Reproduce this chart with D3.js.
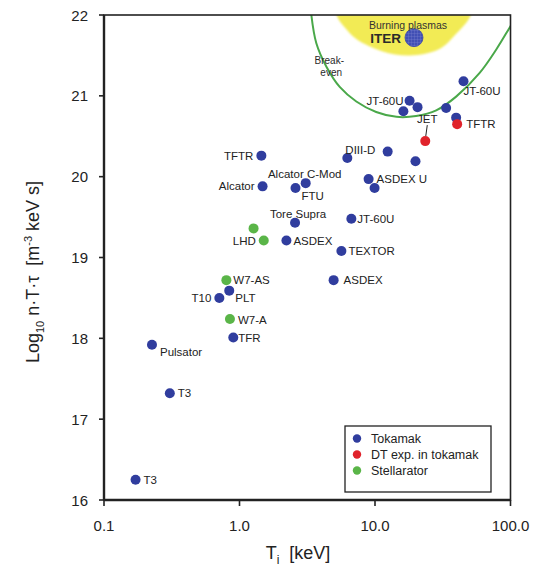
<!DOCTYPE html>
<html><head><meta charset="utf-8">
<script src="https://cdn.jsdelivr.net/npm/d3@7"></script>
<style>
html,body{margin:0;padding:0;background:#fff;}
svg{display:block;font-family:"Liberation Sans",Arial,sans-serif;}
</style></head>
<body><svg id="c" width="535" height="567"></svg>
<script>
// ---- data ----
const xTicks = [0.1, 1, 10, 100];
const xTickLabels = ["0.1", "1.0", "10.0", "100.0"];
const yTicks = [16, 17, 18, 19, 20, 21, 22];

const deviceNames = ["JT-60U","JT-60U","","","","","TFTR","JET","DIII-D","","","TFTR","Alcator C-Mod","FTU","Alcator","ASDEX U","","Tore Supra","JT-60U","","LHD","ASDEX","TEXTOR","W7-AS","ASDEX","PLT","T10","W7-A","TFR","Pulsator","T3","T3"];
const deviceTi =      [45.0, 18.0, 20.6, 16.2, 33.5, 39.7, 40.4, 23.5, 6.25, 12.4, 19.9, 1.45, 3.08, 2.59, 1.48, 8.97, 9.93, 2.57, 6.69, 1.27, 1.51, 2.22, 5.65, 0.80, 4.95, 0.84, 0.71, 0.85, 0.90, 0.226, 0.306, 0.171];
const deviceNTtau =   [21.18, 20.94, 20.86, 20.81, 20.85, 20.73, 20.65, 20.44, 20.23, 20.31, 20.19, 20.26, 19.92, 19.86, 19.88, 19.97, 19.86, 19.43, 19.48, 19.36, 19.21, 19.21, 19.08, 18.72, 18.72, 18.59, 18.50, 18.24, 18.01, 17.92, 17.32, 16.25];
const deviceType =    ["T","T","T","T","T","T","D","D","T","T","T","T","T","T","T","T","T","T","T","S","S","T","T","S","T","T","T","S","T","T","T","T"];

const legendLabels = ["Tokamak", "DT exp. in tokamak", "Stellarator"];
const legendTypes = ["T", "D", "S"];

const breakevenTi =    [3.39, 3.69, 4.38, 5.49, 7.28, 10.2, 14.4, 20.1, 28.3, 39.7, 59.0, 78.3, 98.2, 105];
const breakevenNTtau = [22.0, 21.65, 21.36, 21.11, 20.93, 20.80, 20.74, 20.75, 20.82, 20.99, 21.28, 21.57, 21.84, 21.92];

const burningTi =    [5.20, 6.10, 7.32, 11.4, 18.0, 29.9, 39.9, 51.0];
const burningNTtau = [22.0, 21.83, 21.70, 21.55, 21.50, 21.58, 21.77, 22.0];

const iterTi = 19.4, iterNTtau = 21.72;

// ---- layout / style (not data) ----
const colors = {T: "#303d9e", D: "#e0232b", S: "#5ab548"};
const labelPlace = [ // [dx, dy, anchor]
  [0,14,"start"],[-6,4,"end"],null,null,null,null,[9,4,"start"],[2,-18,"middle"],[-2,-4,"start"],null,null,[-8,4,"end"],
  [-1,-5,"middle"],[6,12,"start"],[-8,4,"end"],[8,4,"start"],null,[3,-5,"middle"],[6,4,"start"],null,[-8,4,"end"],
  [7,4,"start"],[7,4,"start"],[7,4,"start"],[10,4,"start"],[6,11,"start"],[-8,4,"end"],[8,5,"start"],[5,4,"start"],
  [8,11,"start"],[8,4,"start"],[8,4,"start"]
];

const svg = d3.select("#c");
const L = 104, R = 510.5, T = 15, B = 500;
const x = d3.scaleLog().domain([0.1, 100]).range([L, R]);
const y = d3.scaleLinear().domain([16, 22]).range([B, T]);

const defs = svg.append("defs");
defs.append("clipPath").attr("id", "clip").append("rect")
  .attr("x", L).attr("y", T).attr("width", R - L).attr("height", B - T);
const blur = defs.append("filter").attr("id", "soft").attr("x", "-10%").attr("y", "-10%").attr("width", "120%").attr("height", "120%");
blur.append("feGaussianBlur").attr("stdDeviation", 1.2);
const pat = defs.append("pattern").attr("id", "grid").attr("width", 3).attr("height", 3).attr("patternUnits", "userSpaceOnUse");
pat.append("rect").attr("width", 3).attr("height", 3).attr("fill", "#4250b5");
pat.append("path").attr("d", "M0,0H3M0,0V3").attr("stroke", "#7d86d0").attr("stroke-width", 0.6);

const plot = svg.append("g").attr("clip-path", "url(#clip)");

// burning plasma region
const burnPts = burningTi.map((t, i) => [x(t), y(burningNTtau[i])]);
plot.append("path")
  .attr("d", d3.line().curve(d3.curveCatmullRom)([[x(burningTi[0]) - 2, y(22.3)], ...burnPts, [x(burningTi[burningTi.length-1]) + 2, y(22.3)]]) + "Z")
  .attr("fill", "#f2eb55").attr("filter", "url(#soft)");

// break-even curve
plot.append("path")
  .attr("d", d3.line().curve(d3.curveCatmullRom).x((d, i) => x(d)).y((d, i) => y(breakevenNTtau[i]))(breakevenTi))
  .attr("fill", "none").attr("stroke", "#4aa84a").attr("stroke-width", 2);

// ITER
plot.append("circle").attr("cx", x(iterTi)).attr("cy", y(iterNTtau)).attr("r", 9)
  .attr("fill", "url(#grid)").attr("stroke", "#3a46a8").attr("stroke-width", 0.8);
svg.append("text").attr("x", x(iterTi) - 13).attr("y", y(iterNTtau) + 5).attr("text-anchor", "end")
  .attr("font-size", 13.5).attr("font-weight", "bold").attr("fill", "#2a2a2a").text("ITER");
svg.append("text").attr("x", x(iterTi) - 6).attr("y", y(21.83)).attr("text-anchor", "middle")
  .attr("font-size", 10.5).attr("fill", "#333").text("Burning plasmas");
svg.append("text").attr("x", x(4.6)).attr("y", y(21.4)).attr("text-anchor", "middle")
  .attr("font-size", 10).attr("fill", "#2a2a2a").text("Break-");
svg.append("text").attr("x", x(4.75)).attr("y", y(21.25)).attr("text-anchor", "middle")
  .attr("font-size", 10).attr("fill", "#2a2a2a").text("even");

// JET connector line
const jetI = deviceNames.indexOf("JET");
svg.append("line").attr("x1", x(deviceTi[jetI]) + 2).attr("y1", y(deviceNTtau[jetI]) - 16)
  .attr("x2", x(deviceTi[jetI]) + 0.5).attr("y2", y(deviceNTtau[jetI]) - 5)
  .attr("stroke", "#222").attr("stroke-width", 1);

// points
svg.append("g").selectAll("circle").data(deviceTi).join("circle")
  .attr("cx", d => x(d)).attr("cy", (d, i) => y(deviceNTtau[i])).attr("r", 5)
  .attr("fill", (d, i) => colors[deviceType[i]]);

// labels
svg.append("g").selectAll("text").data(deviceNames.map((n, i) => i).filter(i => deviceNames[i] && labelPlace[i]))
  .join("text")
  .attr("x", i => x(deviceTi[i]) + labelPlace[i][0])
  .attr("y", i => y(deviceNTtau[i]) + labelPlace[i][1])
  .attr("text-anchor", i => labelPlace[i][2])
  .attr("font-size", 11.5).attr("fill", "#222")
  .text(i => deviceNames[i]);

// axes
const ax = svg.append("g").attr("stroke", "#222");
ax.append("rect").attr("x", L).attr("y", T).attr("width", R - L).attr("height", B - T)
  .attr("fill", "none").attr("stroke-width", 1.6);
ax.append("line").attr("x1", L).attr("x2", L).attr("y1", T).attr("y2", B).attr("stroke-width", 2.4);
ax.append("line").attr("x1", L).attr("x2", R).attr("y1", B).attr("y2", B).attr("stroke-width", 2.4);
ax.selectAll(".xt").data(xTicks).join("line").attr("x1", d => x(d)).attr("x2", d => x(d))
  .attr("y1", B).attr("y2", B + 6).attr("stroke-width", 1.6);
ax.selectAll(".yt").data(yTicks).join("line").attr("y1", d => y(d)).attr("y2", d => y(d))
  .attr("x1", L - 5).attr("x2", L).attr("stroke-width", 1.6);

svg.append("g").selectAll("text").data(xTicks).join("text")
  .attr("x", d => x(d)).attr("y", 531).attr("text-anchor", "middle")
  .attr("font-size", 15).attr("fill", "#222").text((d, i) => xTickLabels[i]);
svg.append("g").selectAll("text").data(yTicks).join("text")
  .attr("x", 88).attr("y", d => y(d) + 5.5).attr("text-anchor", "end")
  .attr("font-size", 15).attr("fill", "#222").text(d => d);

// axis titles
const xt = svg.append("text").attr("x", 298).attr("y", 559).attr("text-anchor", "middle")
  .attr("font-size", 18).attr("fill", "#222");
xt.append("tspan").text("T");
xt.append("tspan").attr("font-size", 12).attr("dy", 5).text("i");
xt.append("tspan").attr("dy", -5).text("\u00a0 [keV]");

const yt = svg.append("text").attr("transform", "translate(39,272) rotate(-90)").attr("text-anchor", "middle")
  .attr("font-size", 18).attr("fill", "#222");
yt.append("tspan").text("Log");
yt.append("tspan").attr("font-size", 11).attr("dy", 5).text("10");
yt.append("tspan").attr("dy", -5).text(" n\u00b7T\u00b7\u03c4 \u00a0[m");
yt.append("tspan").attr("font-size", 11).attr("dy", -7).text("-3");
yt.append("tspan").attr("dy", 7).text(" keV s]");

// legend
const lg = svg.append("g");
lg.append("rect").attr("x", 345).attr("y", 426).attr("width", 146).attr("height", 66)
  .attr("fill", "#fff").attr("stroke", "#222").attr("stroke-width", 1.3);
legendLabels.forEach((lab, i) => {
  lg.append("circle").attr("cx", 357).attr("cy", 438.5 + i * 16).attr("r", 4.2).attr("fill", colors[legendTypes[i]]);
  lg.append("text").attr("x", 371).attr("y", 443 + i * 16).attr("font-size", 12.5).attr("fill", "#222").text(lab);
});
</script></body></html>
